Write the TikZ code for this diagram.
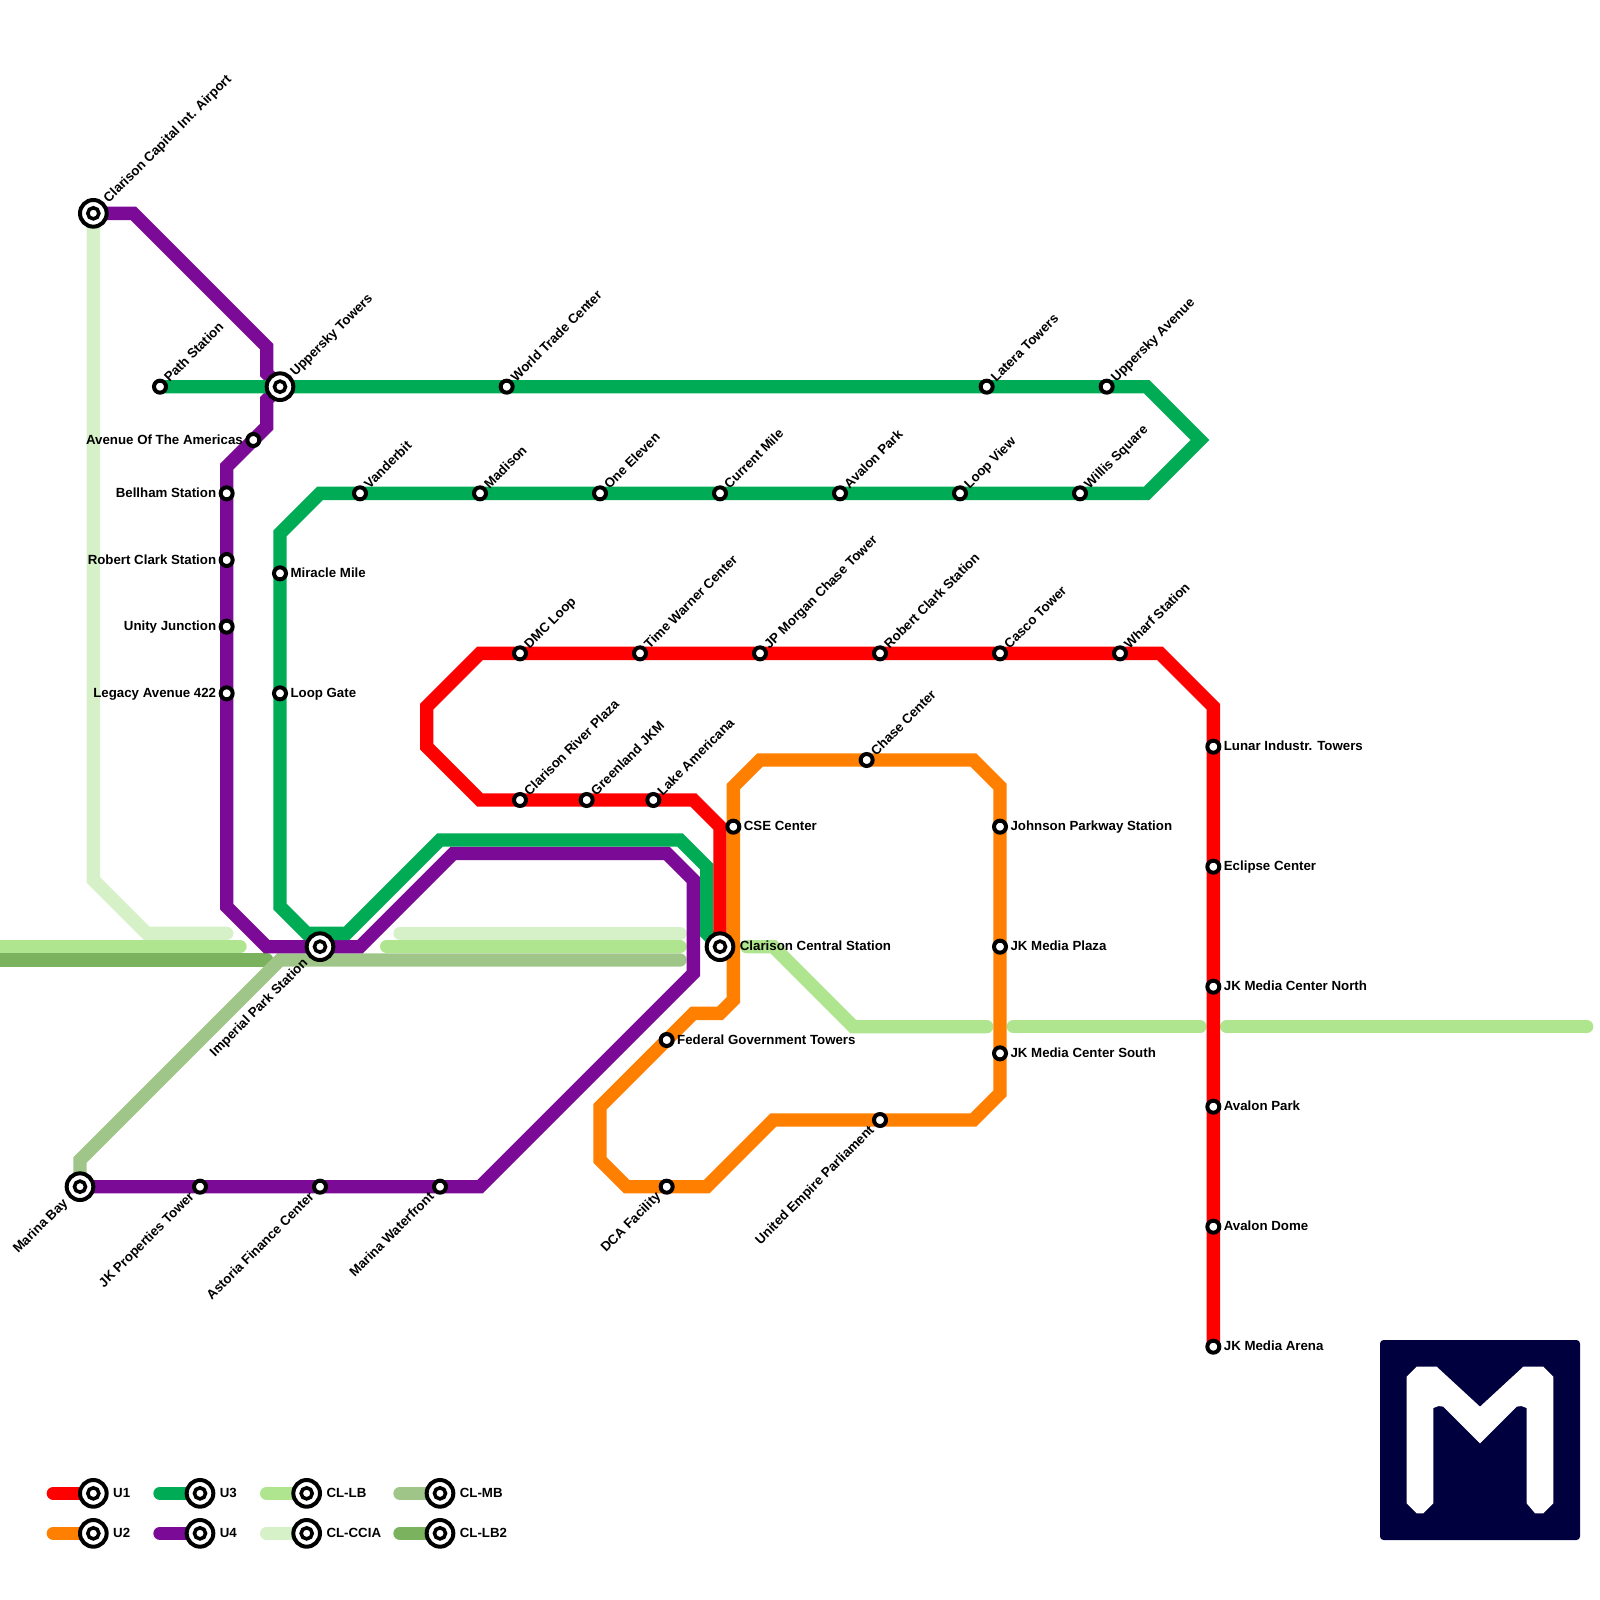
\documentclass[tikz,border=0pt]{standalone}
\usepackage{xcolor}
\usepackage{fontspec}
\setmainfont{Liberation Sans}
\usetikzlibrary{backgrounds}
\definecolor{redline}{HTML}{FF0000}
\definecolor{orangeline}{HTML}{FF8000}
\definecolor{greenline}{HTML}{00AB55}
\definecolor{purpleline}{HTML}{7B0A96}
\definecolor{lbline}{HTML}{AFE58E}
\definecolor{ccialine}{HTML}{D6F0C8}
\definecolor{mbline}{HTML}{9FC688}
\definecolor{lbtwoline}{HTML}{7AB25D}
\definecolor{logoink}{HTML}{01003F}
\tikzset{
  stopdot/.style={circle,draw=black,fill=white,line width=0.09cm,minimum size=0.27cm,inner sep=0pt},
  hubdot/.style={circle,draw=black,fill=white,line width=0.09cm,minimum size=0.6cm,inner sep=0pt,
    path picture={\draw[black,fill=white,line width=0.08cm] (path picture bounding box.center) circle (0.125cm);}},
  tag/.style={inner sep=0pt,text=black,font=\fontsize{8.5}{10}\selectfont\bfseries},
  tage/.style={tag,anchor=base west,xshift=0.23cm,yshift=-0.09cm},
  tagw/.style={tag,anchor=base east,xshift=-0.23cm,yshift=-0.09cm},
  tagne/.style={tag,rotate=45,anchor=base west,xshift=0.21cm,yshift=-0.09cm},
  tagsw/.style={tag,rotate=45,anchor=base east,xshift=-0.25cm,yshift=-0.09cm},
  metro/.style={line width=0.3cm,line cap=round,line join=miter}
}
\begin{document}
\begin{tikzpicture}[x=0.3cm,y=-0.3cm]
    \useasboundingbox (0,0) rectangle (120,120);
    % U4
    \node[hubdot] (airport) at (7,16) {}; \node[tagne,xshift=0.19cm] (airportT) at (airport) {Clarison Capital Int. Airport};
    \node[stopdot] (americas) at (19,33) {}; \node[tagw] (americasT) at (americas) {Avenue Of The Americas};
    \node[stopdot] (bellham) at (17,37) {}; \node[tagw] (bellhamT) at (bellham) {Bellham Station};
    \node[stopdot] (rclarkw) at (17,42) {}; \node[tagw] (rclarkwT) at (rclarkw) {Robert Clark Station};
    \node[stopdot] (unity) at (17,47) {}; \node[tagw] (unityT) at (unity) {Unity Junction};
    \node[stopdot] (legacy) at (17,52) {}; \node[tagw] (legacyT) at (legacy) {Legacy Avenue 422};
    \node[hubdot] (imperial) at (24,71) {}; \node[tagsw,xshift=-0.2cm] (imperialT) at (imperial) {Imperial Park Station};
    \node[hubdot] (marina) at (6,89) {}; \node[tagsw,xshift=-0.2cm] (marinaT) at (marina) {Marina Bay};
    \node[stopdot] (jkprop) at (15,89) {}; \node[tagsw] (jkpropT) at (jkprop) {JK Properties Tower};
    \node[stopdot] (astoria) at (24,89) {}; \node[tagsw] (astoriaT) at (astoria) {Astoria Finance Center};
    \node[stopdot] (waterfront) at (33,89) {}; \node[tagsw] (waterfrontT) at (waterfront) {Marina Waterfront};
    % U3
    \node[stopdot] (pathst) at (12,29) {}; \node[tagne] (pathstT) at (pathst) {Path Station};
    \node[hubdot] (uppersky) at (21,29) {}; \node[tagne,xshift=0.19cm] (upperskyT) at (uppersky) {Uppersky Towers};
    \node[stopdot] (wtc) at (38,29) {}; \node[tagne] (wtcT) at (wtc) {World Trade Center};
    \node[stopdot] (latera) at (74,29) {}; \node[tagne] (lateraT) at (latera) {Latera Towers};
    \node[stopdot] (upperave) at (83,29) {}; \node[tagne] (upperaveT) at (upperave) {Uppersky Avenue};
    \node[stopdot] (willis) at (81,37) {}; \node[tagne] (willisT) at (willis) {Willis Square};
    \node[stopdot] (loopview) at (72,37) {}; \node[tagne] (loopviewT) at (loopview) {Loop View};
    \node[stopdot] (avalonn) at (63,37) {}; \node[tagne] (avalonnT) at (avalonn) {Avalon Park};
    \node[stopdot] (currentm) at (54,37) {}; \node[tagne] (currentmT) at (currentm) {Current Mile};
    \node[stopdot] (oneeleven) at (45,37) {}; \node[tagne] (oneelevenT) at (oneeleven) {One Eleven};
    \node[stopdot] (madison) at (36,37) {}; \node[tagne] (madisonT) at (madison) {Madison};
    \node[stopdot] (vanderbit) at (27,37) {}; \node[tagne] (vanderbitT) at (vanderbit) {Vanderbit};
    \node[stopdot] (miracle) at (21,43) {}; \node[tage] (miracleT) at (miracle) {Miracle Mile};
    \node[stopdot] (loopgate) at (21,52) {}; \node[tage] (loopgateT) at (loopgate) {Loop Gate};
    \node[hubdot] (central) at (54,71) {}; \node[tage,xshift=0.21cm] (centralT) at (central) {Clarison Central Station};
    % U1
    \node[stopdot] (lake) at (49,60) {}; \node[tagne] (lakeT) at (lake) {Lake Americana};
    \node[stopdot] (greenland) at (44,60) {}; \node[tagne] (greenlandT) at (greenland) {Greenland JKM};
    \node[stopdot] (river) at (39,60) {}; \node[tagne] (riverT) at (river) {Clarison River Plaza};
    \node[stopdot] (dmc) at (39,49) {}; \node[tagne] (dmcT) at (dmc) {DMC Loop};
    \node[stopdot] (warner) at (48,49) {}; \node[tagne] (warnerT) at (warner) {Time Warner Center};
    \node[stopdot] (morgan) at (57,49) {}; \node[tagne] (morganT) at (morgan) {JP Morgan Chase Tower};
    \node[stopdot] (rclarke) at (66,49) {}; \node[tagne] (rclarkeT) at (rclarke) {Robert Clark Station};
    \node[stopdot] (casco) at (75,49) {}; \node[tagne] (cascoT) at (casco) {Casco Tower};
    \node[stopdot] (wharf) at (84,49) {}; \node[tagne] (wharfT) at (wharf) {Wharf Station};
    \node[stopdot] (lunar) at (91,56) {}; \node[tage] (lunarT) at (lunar) {Lunar Industr. Towers};
    \node[stopdot] (eclipse) at (91,65) {}; \node[tage] (eclipseT) at (eclipse) {Eclipse Center};
    \node[stopdot] (jknorth) at (91,74) {}; \node[tage] (jknorthT) at (jknorth) {JK Media Center North};
    \node[stopdot] (avalons) at (91,83) {}; \node[tage] (avalonsT) at (avalons) {Avalon Park};
    \node[stopdot] (dome) at (91,92) {}; \node[tage] (domeT) at (dome) {Avalon Dome};
    \node[stopdot] (arena) at (91,101) {}; \node[tage] (arenaT) at (arena) {JK Media Arena};
    % U2
    \node[stopdot] (cse) at (55,62) {}; \node[tage] (cseT) at (cse) {CSE Center};
    \node[stopdot] (chase) at (65,57) {}; \node[tagne] (chaseT) at (chase) {Chase Center};
    \node[stopdot] (johnson) at (75,62) {}; \node[tage] (johnsonT) at (johnson) {Johnson Parkway Station};
    \node[stopdot] (jkplaza) at (75,71) {}; \node[tage] (jkplazaT) at (jkplaza) {JK Media Plaza};
    \node[stopdot] (jksouth) at (75,79) {}; \node[tage] (jksouthT) at (jksouth) {JK Media Center South};
    \node[stopdot] (parliament) at (66,84) {}; \node[tagsw] (parliamentT) at (parliament) {United Empire Parliament};
    \node[stopdot] (dca) at (50,89) {}; \node[tagsw] (dcaT) at (dca) {DCA Facility};
    \node[stopdot] (federal) at (50,78) {}; \node[tage] (federalT) at (federal) {Federal Government Towers};
    % key
    \node[hubdot] (keyA) at (7,112) {}; \node[tage,xshift=0.21cm] (keyAT) at (keyA) {U1};
    \node[hubdot] (keyB) at (7,115) {}; \node[tage,xshift=0.21cm] (keyBT) at (keyB) {U2};
    \node[hubdot] (keyC) at (15,112) {}; \node[tage,xshift=0.21cm] (keyCT) at (keyC) {U3};
    \node[hubdot] (keyD) at (15,115) {}; \node[tage,xshift=0.21cm] (keyDT) at (keyD) {U4};
    \node[hubdot] (keyE) at (23,112) {}; \node[tage,xshift=0.21cm] (keyET) at (keyE) {CL-LB};
    \node[hubdot] (keyF) at (23,115) {}; \node[tage,xshift=0.21cm] (keyFT) at (keyF) {CL-CCIA};
    \node[hubdot] (keyG) at (33,112) {}; \node[tage,xshift=0.21cm] (keyGT) at (keyG) {CL-MB};
    \node[hubdot] (keyH) at (33,115) {}; \node[tage,xshift=0.21cm] (keyHT) at (keyH) {CL-LB2};
    \coordinate (lbA) at (0,71); \coordinate (lbB) at (18,71); \coordinate (lbC) at (29,71); \coordinate (lbD) at (51,71);
    \coordinate (lbE) at (56,71); \coordinate (lbF) at (74,77); \coordinate (lbG) at (76,77); \coordinate (lbH) at (90,77);
    \coordinate (lbI) at (92,77); \coordinate (lbJ) at (119,77);
    \coordinate (cciaA) at (17,70); \coordinate (cciaB) at (30,70); \coordinate (cciaC) at (51,70);
    \coordinate (mbA) at (51,72); \coordinate (twoA) at (0,72); \coordinate (twoB) at (20,72);
    \begin{scope}[on background layer]
      \draw[metro,ccialine] (airport.center) -- (7,66) -- (11,70) -- (cciaA);
      \draw[metro,ccialine] (cciaB) -- (cciaC);
      \draw[metro,lbline] (lbA) -- (lbB);
      \draw[metro,lbline] (lbC) -- (lbD);
      \draw[metro,lbline] (lbE) -- (58,71) -- (64,77) -- (lbF);
      \draw[metro,lbline] (lbG) -- (lbH);
      \draw[metro,lbline] (lbI) -- (lbJ);
      \draw[metro,lbtwoline] (twoA) -- (twoB);
      \draw[metro,mbline] (marina.center) -- (6,87) -- (21,72) -- (mbA);
      \draw[metro,purpleline] (airport.center) -- (10,16) -- (20,26) -- (20,28) -- (uppersky.center) -- (20,30) -- (20,32) -- (americas.center) -- (17,35) -- (bellham.center) -- (rclarkw.center) -- (unity.center) -- (legacy.center) -- (17,68) -- (20,71) -- (imperial.center) -- (27,71) -- (34,64) -- (50,64) -- (52,66) -- (52,73) -- (36,89) -- (waterfront.center) -- (astoria.center) -- (jkprop.center) -- (marina.center);
      \draw[metro,greenline] (pathst.center) -- (uppersky.center) -- (wtc.center) -- (latera.center) -- (upperave.center) -- (86,29) -- (90,33) -- (86,37) -- (willis.center) -- (loopview.center) -- (avalonn.center) -- (currentm.center) -- (oneeleven.center) -- (madison.center) -- (vanderbit.center) -- (24,37) -- (21,40) -- (miracle.center) -- (loopgate.center) -- (21,68) -- (23,70) -- (26,70) -- (33,63) -- (51,63) -- (53,65) -- (53,70) -- (central.center);
      \draw[metro,redline] (central.center) -- (54,62) -- (52,60) -- (lake.center) -- (greenland.center) -- (river.center) -- (36,60) -- (32,56) -- (32,53) -- (36,49) -- (dmc.center) -- (warner.center) -- (morgan.center) -- (rclarke.center) -- (casco.center) -- (wharf.center) -- (87,49) -- (91,53) -- (lunar.center) -- (eclipse.center) -- (jknorth.center) -- (avalons.center) -- (dome.center) -- (arena.center);
      \draw[metro,orangeline] (cse.center) -- (55,59) -- (57,57) -- (chase.center) -- (73,57) -- (75,59) -- (johnson.center) -- (jkplaza.center) -- (jksouth.center) -- (75,82) -- (73,84) -- (parliament.center) -- (58,84) -- (53,89) -- (dca.center) -- (47,89) -- (45,87) -- (45,83) -- (federal.center) -- (52,76) -- (54,76) -- (55,75) -- cycle;
      \draw[metro,redline] (keyA.center) -- (4,112);
      \draw[metro,orangeline] (keyB.center) -- (4,115);
      \draw[metro,greenline] (keyC.center) -- (12,112);
      \draw[metro,purpleline] (keyD.center) -- (12,115);
      \draw[metro,lbline] (keyE.center) -- (20,112);
      \draw[metro,ccialine] (keyF.center) -- (20,115);
      \draw[metro,mbline] (keyG.center) -- (30,112);
      \draw[metro,lbtwoline] (keyH.center) -- (30,115);
    \end{scope}
    % logo
    \fill[logoink,rounded corners=0.08cm] (103.5,100.5) rectangle (118.5,115.5);
    \fill[white] (105.5,103.25) -- (106.25,102.5) -- (107.75,102.5) -- (111,105.5) -- (114.25,102.5) -- (115.75,102.5) -- (116.5,103.25) -- (116.5,112.75) -- (115.75,113.5) -- (115.13,113.5) -- (114.5,112.75) -- (114.5,105.6) -- (114.1,105.45) -- (113.75,105.5) -- (111,108.25) -- (108.25,105.5) -- (107.9,105.45) -- (107.5,105.6) -- (107.5,112.75) -- (106.75,113.5) -- (106.25,113.5) -- (105.5,112.75) -- cycle;
\end{tikzpicture}
\end{document}
